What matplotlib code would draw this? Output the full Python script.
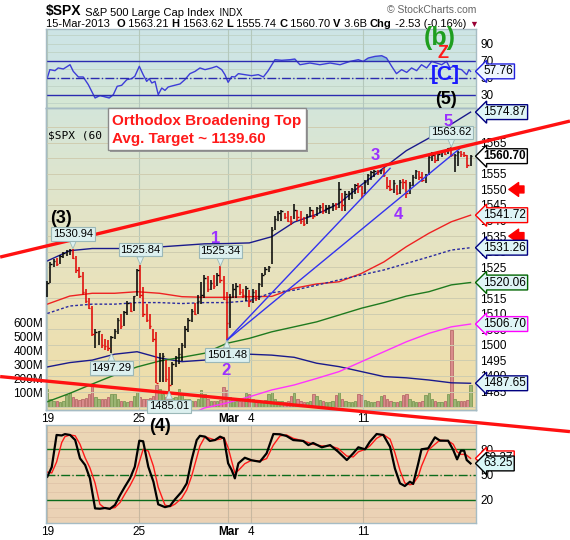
import numpy as np
import matplotlib
matplotlib.use("Agg")
import matplotlib.pyplot as plt
import matplotlib.transforms as mtransforms
from matplotlib.colors import LinearSegmentedColormap
from matplotlib.patches import Rectangle

plt.rcParams["font.family"] = ["Liberation Sans", "DejaVu Sans"]

# ---- Datos: barras de 60 min, 19-Feb-2013 a 15-Mar-2013 (7 barras por sesion) ----
lows = [1515.5, 1520, 1525, 1525.5, 1526, 1528, 1528.5,
        1529, 1527.5, 1523, 1521.5, 1516, 1513.5, 1511.41,
        1503, 1499, 1500, 1499, 1498.5, 1498, 1497.29,
        1502, 1503.5, 1505, 1506, 1509.5, 1510.5, 1511,
        1515.6, 1515, 1509, 1507.5, 1505, 1501, 1487.85,
        1488, 1488, 1488, 1485.01, 1487, 1493, 1494,
        1494.88, 1499, 1504, 1507.5, 1509.5, 1510, 1513,
        1515, 1517, 1517.5, 1518, 1519, 1520, 1514.46,
        1501.48, 1505.5, 1515, 1515, 1516, 1515, 1514,
        1512.29, 1513.5, 1514, 1514.5, 1518.5, 1522.5, 1523.5,
        1526, 1537, 1540, 1540, 1540.5, 1539.5, 1538.5,
        1540.5, 1540, 1539, 1538.11, 1539, 1541, 1540.5,
        1541.46, 1542.5, 1542, 1542.5, 1542, 1543, 1543.5,
        1544, 1543, 1542.94, 1546.5, 1547, 1548.5, 1549,
        1547.36, 1548.5, 1551.5, 1553, 1554, 1554.5, 1555,
        1554, 1550, 1549.5, 1549, 1548.24, 1548.5, 1550,
        1547.36, 1548.5, 1551, 1553.5, 1553, 1552.5, 1552,
        1554.52, 1559, 1558.5, 1559, 1560.5, 1561, 1561.5,
        1560.5, 1555.74, 1557.5, 1560.5, 1560.5, 1557, 1557.5]
highs = [1520.5, 1526.5, 1527.5, 1528, 1529, 1530, 1530.5,
         1530.8, 1530.94, 1528.5, 1525, 1523.5, 1518, 1515,
         1512.5, 1505, 1504.5, 1503.5, 1502, 1501.5, 1503,
         1505, 1508.5, 1510, 1511, 1514, 1513.5, 1515.64,
         1524.5, 1525.84, 1518.5, 1513, 1510, 1505, 1504,
         1497.5, 1497.5, 1495, 1493, 1494.5, 1496.5, 1498.99,
         1500.5, 1506, 1508.5, 1511.5, 1513.5, 1516, 1520.08,
         1522.5, 1522, 1521, 1522.5, 1523, 1525.34, 1522,
         1517, 1516.5, 1519.5, 1519.99, 1519.5, 1518, 1519,
         1517.5, 1518, 1517.5, 1520, 1523, 1525, 1525.27,
         1538, 1541.5, 1543, 1543.47, 1542.5, 1543, 1541.5,
         1545.25, 1543.5, 1543, 1541, 1542, 1544.5, 1543.5,
         1544.5, 1545, 1545.5, 1545, 1545, 1545.78, 1545.5,
         1552.48, 1549, 1549.5, 1549.5, 1550.5, 1551.8, 1552,
         1551, 1553, 1555, 1556, 1556.27, 1556.2, 1556.27,
         1556.77, 1554, 1553, 1553, 1551.5, 1553, 1553.5,
         1553, 1552.5, 1554.5, 1556.39, 1556, 1555.5, 1555,
         1561.5, 1562, 1561.5, 1562, 1562.5, 1562.8, 1563.32,
         1563.62, 1561.5, 1562.5, 1562.5, 1562, 1561, 1561]
closes = [1520, 1526, 1527, 1526, 1528.5, 1529.5, 1530.2,
          1530.6, 1528, 1524, 1522, 1517, 1514, 1511.95,
          1503.5, 1504, 1504.5, 1500, 1499.5, 1499, 1502.42,
          1504.5, 1508, 1506, 1510.5, 1513.5, 1511, 1515.6,
          1524, 1516, 1510, 1508, 1506, 1502, 1487.85,
          1495, 1496.5, 1489, 1487, 1494, 1496, 1496.94,
          1500, 1505, 1508, 1511, 1510, 1514, 1515.99,
          1521.5, 1518, 1520, 1519, 1522.5, 1521, 1514.68,
          1507, 1515.5, 1518, 1519, 1517, 1516, 1518.2,
          1514, 1517, 1515, 1519.5, 1522.5, 1524.5, 1525.2,
          1537, 1540.5, 1542.5, 1543, 1541, 1540, 1539.79,
          1543.5, 1541, 1540, 1539, 1541.5, 1543.5, 1541.46,
          1544, 1544.5, 1543, 1544, 1544.5, 1545, 1544.26,
          1550, 1545, 1548.5, 1549, 1550, 1551.5, 1551.18,
          1549, 1552.5, 1554.5, 1555.5, 1556, 1555.5, 1556.22,
          1554.5, 1551, 1550, 1552, 1549, 1552.5, 1552.48,
          1549, 1551.5, 1554, 1556, 1554, 1553, 1554.52,
          1560.5, 1561, 1559.5, 1561.5, 1562, 1561.5, 1563.23,
          1561, 1561.2, 1562, 1561.5, 1561, 1558, 1560.70]
# volumen en millones
volumes = [125, 60, 45, 40, 35, 45, 85,
           110, 70, 55, 48, 55, 65, 95,
           155, 75, 60, 55, 60, 70, 95,
           90, 55, 45, 40, 38, 45, 80,
           105, 70, 60, 55, 65, 80, 160,
           130, 90, 75, 60, 65, 70, 125,
           95, 60, 55, 45, 45, 55, 120,
           90, 55, 45, 40, 42, 50, 140,
           120, 70, 55, 45, 42, 50, 100,
           95, 60, 45, 40, 40, 48, 95,
           105, 60, 45, 40, 38, 45, 80,
           100, 55, 45, 38, 36, 45, 90,
           80, 50, 40, 35, 35, 42, 85,
           110, 60, 45, 38, 38, 45, 90,
           85, 50, 40, 35, 33, 40, 80,
           85, 55, 45, 38, 35, 42, 85,
           90, 55, 42, 35, 33, 40, 85,
           100, 55, 42, 35, 35, 45, 95,
           545, 60, 45, 40, 42, 50, 157]

ma_x = [0, 7, 14, 21, 28, 35, 42, 49, 56, 63, 70, 77, 84, 91, 98, 105, 112, 119, 126, 132]
upper_band = [1527, 1530.3, 1531, 1531, 1531, 1531.5, 1532, 1532.5, 1532.6, 1532.8,
              1534.8, 1539.5, 1542, 1545.5, 1551.5, 1557, 1562.5, 1566.5, 1571, 1574.87]
lower_band = [1492.9, 1494.3, 1495.1, 1497, 1497.8, 1495.8, 1494.6, 1495.1, 1496.5, 1497,
              1496.7, 1496, 1494.1, 1493, 1491.4, 1489.8, 1489.4, 1488.7, 1487.8, 1487.65]
red_ma = [1513.1, 1515.7, 1516.6, 1516.6, 1517.1, 1516.6, 1515.5, 1515.3, 1515.3, 1515.5,
          1515.6, 1518.2, 1519.6, 1520.3, 1523, 1526.7, 1531.6, 1535.9, 1539.6, 1541.72]
dotted_ma = [1510.1, 1512.5, 1513.1, 1513.1, 1513.6, 1513.6, 1513.3, 1513.6, 1513.6, 1514.2,
             1516.8, 1517.6, 1519.2, 1520.9, 1522.5, 1524.1, 1526.2, 1528.3, 1530.5, 1531.26]
green_ma = [1481.7, 1484.4, 1487.4, 1490.3, 1492.9, 1494.8, 1496, 1497.3, 1500.5, 1502.1,
            1504.2, 1505.8, 1507.4, 1509.6, 1511.8, 1513.6, 1515.7, 1517.1, 1519.3, 1520.06]
magenta_x = [42, 49, 56, 63, 70, 77, 84, 91, 98, 105, 112, 119, 126, 132]
magenta_ma = [1476.5, 1479.7, 1481.3, 1483.3, 1485.5, 1487.1, 1489.2, 1491.4, 1494.6,
              1497.8, 1501, 1503.7, 1505.8, 1506.70]

# lineas de tendencia (indice de barra, precio)
broad_top = [(-14.7, 1528.25), (163.0, 1572.0)]
broad_bottom = [(-14.7, 1489.8), (163.0, 1472.1)]
trend_1 = [(56, 1501.48), (106.9, 1556.8)]
trend_2 = [(56, 1501.48), (128.7, 1563.2)]

# maximos / minimos anotados
ext_idx = [8, 29, 54, 20, 38, 56, 126]
ext_val = [1530.94, 1525.84, 1525.34, 1497.29, 1485.01, 1501.48, 1563.62]
ext_top = [True, True, True, False, False, False, True]

# RSI(14)
rsi_x = [0, 0.8, 2.4, 3.4, 5.0, 7.1, 8.1, 9.7, 11.2, 12.8, 14.9, 16.4, 18.0, 19.3, 20.6,
         21.8, 23.2, 24.8, 26.3, 27.3, 28.7, 29.9, 31.0, 31.8, 32.6, 33.6, 34.6, 35.7,
         36.7, 37.7, 39.3, 41.4, 42.9, 44.5, 46.1, 47.6, 49.2, 51.3, 52.8, 54.4, 55.4,
         56.4, 57.5, 58.5, 59.6, 61.6, 63.7, 65.8, 67.4, 68.9, 71.0, 73.1, 75.7, 77.2,
         78.3, 78.8, 81.9, 85.0, 88.2, 91.3, 94.4, 97.0, 98.5, 100.1, 102.2, 104.3,
         105.8, 107.4, 108.9, 110.5, 112.1, 113.6, 115.2, 116.7, 118.3, 119.9, 121.4,
         123.0, 124.5, 125.6, 126.6, 128.2, 129.2, 130.8, 131.5, 132]
rsi_vals = [50, 59.8, 58.6, 61.8, 60.6, 65.6, 57.8, 51.2, 51.2, 42.1, 26.5, 29.3, 27.8,
            26.5, 30.4, 40.2, 41.4, 48, 49.2, 52, 63.7, 53.9, 46, 49.2, 44.1, 46, 30.4,
            38.2, 35.4, 39.4, 41, 43, 48, 55.1, 57.8, 61.8, 59.8, 61.8, 63.7, 59.8, 53.9,
            44.9, 51.6, 51.2, 55.1, 53.9, 52.7, 53.9, 51.2, 58.6, 71.5, 70.8, 71.5, 72.3,
            67.6, 65.6, 67.6, 65.6, 67.6, 65.6, 69.5, 71.5, 69.5, 73.5, 75.4, 76.2, 73.5,
            63.7, 55.1, 59.8, 56.6, 61.8, 58.6, 65.6, 61.8, 69.5, 67.6, 65.6, 69.5, 61.8,
            63.7, 60.6, 59.8, 53.9, 59.8, 57.76]

# Estocastico lento
sto_x = [0, 1.4, 2.9, 4.5, 5.5, 7.1, 8.7, 10.2, 11.8, 13.3, 14.9, 16.4, 18.0, 19.5, 21.1,
         22.7, 24.2, 25.8, 27.3, 28.7, 29.9, 31.5, 33.1, 34.6, 36.7, 38.3, 39.8, 41.9,
         43.5, 45.0, 46.6, 47.6, 49.2, 50.7, 52.3, 53.9, 55.1, 56.4, 57.5, 58.5, 59.6,
         61.6, 63.7, 66.3, 68.4, 70.5, 72.6, 74.6, 76.7, 79.8, 81.4, 82.9, 85.6, 88.2,
         90.7, 93.4, 95.4, 97.0, 99.1, 100.6, 102.7, 104.8, 106.9, 108.4, 110.0, 111.5,
         113.1, 114.1, 115.7, 116.7, 118.8, 120.9, 122.5, 125.0, 126.6, 127.8, 129.0,
         130.0, 130.8, 132.0]
sto_k = [47.5, 59, 97, 96.4, 98, 97, 91, 69.3, 61.4, 45.6, 10, 9.6, 10.5, 9.4, 14, 25.8,
         35.7, 45.6, 59.4, 90.2, 89.5, 59.4, 41.6, 14.8, 11.5, 13, 20.6, 29.7, 39.7, 67.3,
         91, 96, 95, 89.9, 91, 95, 93, 63.4, 55.5, 45.6, 63.4, 70, 67, 65.3, 75.2, 98.1,
         97.8, 95.8, 91, 89.9, 85, 87.5, 82.4, 85, 77.2, 67.3, 75.2, 82.4, 80, 89, 98.1,
         97, 83, 57.4, 39.7, 36.5, 41.6, 39, 63.4, 80, 81.2, 94.2, 90.2, 90.2, 79.2, 68.1,
         78.4, 78.4, 67.3, 63.25]
sto_d = [53, 52, 65, 88, 95, 97, 96, 86, 70, 58, 40, 15, 10, 10, 11, 17, 27, 37, 48, 65,
         80, 78, 60, 35, 14, 12, 15, 22, 32, 48, 70, 84, 95, 93, 91, 92, 94, 82, 66, 52,
         55, 63, 67, 66, 69, 85, 96, 97, 93, 90, 88, 86, 84, 84, 81, 72, 71, 77, 80, 84,
         93, 97.5, 92, 76, 55, 40, 38, 39, 48, 60, 79, 86, 91, 90, 86, 77, 74, 74, 73, 69.27]

tick_pos = [0, 28.5, 56.5, 63.5, 98.5]
tick_labels = ["19", "25", "Mar", "4", "11"]

# etiquetas de ultimo valor a la derecha del precio
last_vals = [1574.87, 1560.70, 1541.72, 1531.26, 1520.06, 1506.70, 1487.65]
last_edges = ["#000080", "#000000", "#ff0000", "#000080", "#006400", "#ff00ff", "#000080"]

W, H = 570, 540
fig = plt.figure(figsize=(W / 100, H / 100), dpi=100)


def caja(top, bottom):
    return [46 / W, 1 - bottom / H, 430 / W, (bottom - top) / H]


def fondo(a, colores):
    cmap = LinearSegmentedColormap.from_list("fondo", colores)
    grad = np.linspace(0, 1, 256).reshape(-1, 1)
    a.imshow(grad, cmap=cmap, extent=[0, 1, 0, 1], transform=a.transAxes,
             aspect="auto", origin="lower", zorder=-10, interpolation="bilinear")


def bordes(a):
    for s in a.spines.values():
        s.set_color("#a6bcc4")
        s.set_linewidth(1)


XMIN, XMAX = -0.4, 133.7
ax_rsi = fig.add_axes(caja(29, 108))
ax_vol = fig.add_axes(caja(108, 410))
ax = fig.add_axes(caja(108, 410))
ax_sto = fig.add_axes(caja(425, 523))
ax.set_zorder(ax_vol.get_zorder() + 1)
ax.patch.set_visible(False)

fondo(ax_rsi, ["#d6e8d2", "#cfe5e2", "#cde4e6"])
fondo(ax_vol, ["#efdca6", "#ebe2b8", "#e2e4c8", "#d4e6da"])
fondo(ax_sto, ["#ebd2b6", "#ecd7b5"])

x = np.arange(len(closes))

# ---------------- RSI ----------------
ax_rsi.plot(rsi_x, rsi_vals, color="#3d3dd8", lw=1)
rx = np.array(rsi_x)
rv = np.array(rsi_vals)
ax_rsi.fill_between(rx, 70, rv, where=rv > 70, interpolate=True, color="#5fa0d0", alpha=0.6, lw=0)
ax_rsi.fill_between(rx, 30, rv, where=rv < 30, interpolate=True, color="#5fa0d0", alpha=0.6, lw=0)
for v in range(20, 101, 10):
    ax_rsi.axhline(v, color="#bfd3c6", lw=0.6, zorder=0)
ax_rsi.axhline(70, color="#2b2bb0", lw=1)
ax_rsi.axhline(30, color="#2b2bb0", lw=1)
ax_rsi.axhline(50, color="#2b2bb0", lw=1, ls="-.")
ax_rsi.set_ylim(14.7, 107.6)
ax_rsi.set_xlim(XMIN, XMAX)
ax_rsi.yaxis.tick_right()
ax_rsi.set_yticks([30, 50, 70, 90])
ax_rsi.tick_params(axis="y", length=0, pad=3, labelsize=8.5)
ax_rsi.set_xticks(tick_pos)
ax_rsi.tick_params(axis="x", length=0, labelbottom=False)
ax_rsi.grid(axis="x", color="#b4c8bc", lw=0.8)
bordes(ax_rsi)

# ---------------- Volumen ----------------
up = [True] + [closes[i] >= closes[i - 1] for i in range(1, len(closes))]
vcol = ["#9db574" if u else "#d98b8b" for u in up]
vedge = ["#7d9a55" if u else "#b96a6a" for u in up]
ax_vol.bar(x, volumes, width=0.75, color=vcol, edgecolor=vedge, lw=0.6, zorder=2)
ax_vol.set_ylim(-21, 2127)
ax_vol.set_xlim(XMIN, XMAX)
ax_vol.set_yticks([100, 200, 300, 400, 500, 600])
ax_vol.set_yticklabels(["100M", "200M", "300M", "400M", "500M", "600M"])
ax_vol.tick_params(axis="y", length=0, pad=2, labelsize=8.5)
ax_vol.set_xticks([])
bordes(ax_vol)

# ---------------- Precio ----------------
ax.set_xlim(XMIN, XMAX)
ax.set_ylim(1479.05, 1576.2)
ax.set_yticks(np.arange(1480, 1571, 5))
ax.set_yticklabels(["" if v in (1480, 1570) else str(v) for v in range(1480, 1571, 5)])
ax.yaxis.tick_right()
ax.tick_params(axis="y", length=0, pad=3, labelsize=8.5)
ax.grid(axis="y", color="#cfcdb0", lw=0.7)
ax.set_xticks(tick_pos)
ax.set_xticklabels(tick_labels)
ax.tick_params(axis="x", length=0, pad=2, labelsize=8.5)
ax.grid(axis="x", color="#b8c8b8", lw=0.8)
ax.get_xticklabels()[2].set_fontweight("bold")
bordes(ax)

ax.plot(ma_x, upper_band, color="#1a1a8c", lw=1)
ax.plot(ma_x, lower_band, color="#1a1a8c", lw=1)
ax.plot(ma_x, red_ma, color="#ee2222", lw=1)
ax.plot(ma_x, dotted_ma, color="#2a2aa0", lw=1, ls=(0, (2, 1.5)))
ax.plot(ma_x, green_ma, color="#1f7a1f", lw=1)
ax.plot(magenta_x, magenta_ma, color="#ff33ff", lw=1)

bcol = ["#000000" if u else "#e00000" for u in up]
ax.vlines(x, lows, highs, colors=bcol, lw=1.1, zorder=4)
ax.hlines(closes, x, x + 0.45, colors=bcol, lw=1, zorder=4)

for seg in (trend_1, trend_2):
    ax.plot([seg[0][0], seg[1][0]], [seg[0][1], seg[1][1]], color="#3333ee", lw=1, zorder=5)
for seg in (broad_top, broad_bottom):
    ax.plot([seg[0][0], seg[1][0]], [seg[0][1], seg[1][1]], color="#ff1111", lw=2.4,
            zorder=6, clip_on=False, solid_capstyle="butt")

for i, v, top in zip(ext_idx, ext_val, ext_top):
    ax.annotate(f"{v:.2f}", xy=(i, v), xytext=(0, 7 if top else -7), textcoords="offset points",
                ha="center", va="bottom" if top else "top", fontsize=8, zorder=7,
                bbox=dict(boxstyle="square,pad=0.15", fc="#dcf0ef", ec="#9bb8b8", lw=0.8),
                arrowprops=dict(arrowstyle="wedge,tail_width=0.6,shrink_factor=0.5",
                                fc="#dcf0ef", ec="#9bb8b8", lw=0.6, shrinkA=0, shrinkB=0))

# etiquetas de ondas
ax.text(4.3, 1540.5, "(3)", fontsize=13, fontweight="bold", ha="center", va="center")
purple = "#9b30ff"
for lab, xi, yi in [("1", 52.6, 1534.3), ("2", 55.7, 1491.9), ("3", 102.2, 1561.0),
                    ("4", 109.4, 1541.8), ("5", 124.9, 1571.7)]:
    ax.text(xi, yi, lab, color=purple, fontsize=12, fontweight="bold", ha="center", va="center", zorder=8)

ax.text(0.005, 0.91, "$SPX (60 minute)", transform=ax.transAxes, fontsize=8,
        family="DejaVu Sans Mono", va="center", zorder=8)

# recuadro del patron
ax.add_patch(Rectangle((0.149, 0.855), 0.4605, 0.139, transform=ax.transAxes, fc="#9a9a9a",
                       ec="none", zorder=9, clip_on=False))
ax.add_patch(Rectangle((0.1442, 0.861), 0.4605, 0.139, transform=ax.transAxes, fc="white",
                       ec="#8a8a8a", lw=1, zorder=10, clip_on=False))
ax.text(0.154, 0.957, "Orthodox Broadening Top", transform=ax.transAxes, color="#ff1a1a",
        fontsize=11, fontweight="bold", va="center", zorder=11)
ax.text(0.154, 0.897, "Avg. Target ~ 1139.60", transform=ax.transAxes, color="#ff1a1a",
        fontsize=11, fontweight="bold", va="center", zorder=11)

# etiquetas del ultimo valor
trans = mtransforms.blended_transform_factory(ax.transAxes, ax.transData)
for v, ec in zip(last_vals, last_edges):
    bold = v == closes[-1]
    ax.text(1.017, v, f"{v:.2f}", transform=trans, ha="left", va="center", fontsize=8.5,
            fontweight="bold" if bold else "normal", zorder=12, clip_on=False,
            bbox=dict(boxstyle="larrow,pad=0.12", fc="white" if bold else "#dff5f7", ec=ec, lw=1))

# flechas rojas
for yv in (1550, 1535):
    ax.annotate("", xy=(1.07, yv), xytext=(1.118, yv), xycoords=trans, textcoords=trans,
                arrowprops=dict(arrowstyle="simple,head_width=1.0,head_length=0.7,tail_width=0.5",
                                fc="#ff0000", ec="#ff0000", mutation_scale=10), annotation_clip=False)

# ---------------- Estocastico ----------------
for v in range(0, 101, 10):
    ax_sto.axhline(v, color="#e0c4a8", lw=0.6, zorder=0)
ax_sto.axhline(80, color="#0b6b1b", lw=1)
ax_sto.axhline(20, color="#0b6b1b", lw=1)
ax_sto.axhline(50, color="#0b6b1b", lw=1, ls="-.")
ax_sto.plot(sto_x, sto_d, color="#ff1a1a", lw=1)
ax_sto.plot(sto_x, sto_k, color="#000000", lw=1.6)
ax_sto.set_ylim(-7.3, 108.8)
ax_sto.set_xlim(XMIN, XMAX)
ax_sto.yaxis.tick_right()
ax_sto.set_yticks([20, 50, 80])
ax_sto.tick_params(axis="y", length=0, pad=3, labelsize=8.5)
ax_sto.set_xticks(tick_pos)
ax_sto.set_xticklabels(tick_labels)
ax_sto.tick_params(axis="x", length=0, pad=2, labelsize=8.5)
ax_sto.get_xticklabels()[2].set_fontweight("bold")
ax_sto.grid(axis="x", color="#c8b8a0", lw=0.8)
bordes(ax_sto)
ax_sto.text(35.2, 106.5, "(4)", fontsize=13, fontweight="bold", ha="center", va="center", clip_on=False)

trans_s = mtransforms.blended_transform_factory(ax_sto.transAxes, ax_sto.transData)
ax_sto.text(1.017, sto_d[-1], f"{sto_d[-1]:.2f}", transform=trans_s, ha="left", va="center",
            fontsize=8.5, bbox=dict(boxstyle="larrow,pad=0.12", fc="white", ec="#ff0000", lw=1))
ax_sto.text(1.017, sto_k[-1], f"{sto_k[-1]:.2f}", transform=trans_s, ha="left", va="center",
            fontsize=8.5, bbox=dict(boxstyle="larrow,pad=0.12", fc="#d9f7f7", ec="#000000", lw=1))

trans_r = mtransforms.blended_transform_factory(ax_rsi.transAxes, ax_rsi.transData)
ax_rsi.text(1.017, rsi_vals[-1], f"{rsi_vals[-1]:.2f}", transform=trans_r, ha="left", va="center",
            fontsize=8.5, zorder=12,
            bbox=dict(boxstyle="larrow,pad=0.12", fc="#eef6ff", ec="#2222dd", lw=1))

# etiquetas Elliott superiores
fig.text(440 / W, 1 - 38 / H, "(b)", color="#1f9e1f", fontsize=18, fontweight="bold", ha="center", va="center")
fig.text(443 / W, 1 - 54 / H, "Z", color="#ff1a1a", fontsize=13, fontweight="bold", ha="center", va="center")
fig.text(445 / W, 1 - 75 / H, "[C]", color="#1a1aff", fontsize=15, fontweight="bold", ha="center", va="center")
fig.text(446 / W, 1 - 100 / H, "(5)", color="black", fontsize=13, fontweight="bold", ha="center", va="center")

# ---------------- Encabezado ----------------
t = fig.text(46 / W, 1 - 15 / H, "$SPX", fontsize=10, fontweight="bold", va="baseline")
t = ax_rsi.annotate(" S&P 500 Large Cap Index", xy=(1, 0), xycoords=t, fontsize=8, va="bottom", annotation_clip=False)
t = ax_rsi.annotate("  INDX", xy=(1, 0), xycoords=t, fontsize=7, va="bottom", annotation_clip=False)

partes = [("15-Mar-2013  ", "normal", "black"), ("O", "bold", "black"), (" 1563.21 ", "normal", "black"),
          ("H", "bold", "black"), (" 1563.62 ", "normal", "black"), ("L", "bold", "black"),
          (" 1555.74 ", "normal", "black"), ("C", "bold", "black"), (" 1560.70 ", "normal", "black"),
          ("V", "bold", "black"), (" 3.6B ", "normal", "black"), ("Chg", "bold", "black"),
          (" -2.53 (-0.16%) ", "normal", "black"), ("\u25bc", "normal", "#990033")]
t = fig.text(46 / W, 1 - 27 / H, partes[0][0], fontsize=8, va="baseline")
for txt, w, c in partes[1:]:
    t = ax_rsi.annotate(txt, xy=(1, 0), xycoords=t, fontsize=8 if c == "black" else 6.5,
                        fontweight=w, color=c, va="bottom", annotation_clip=False)

fig.text(476 / W, 1 - 10 / H, "\u00a9 StockCharts.com", fontsize=7.5, color="#666666", ha="right", va="center")

fig.savefig("out.png", dpi=100)
